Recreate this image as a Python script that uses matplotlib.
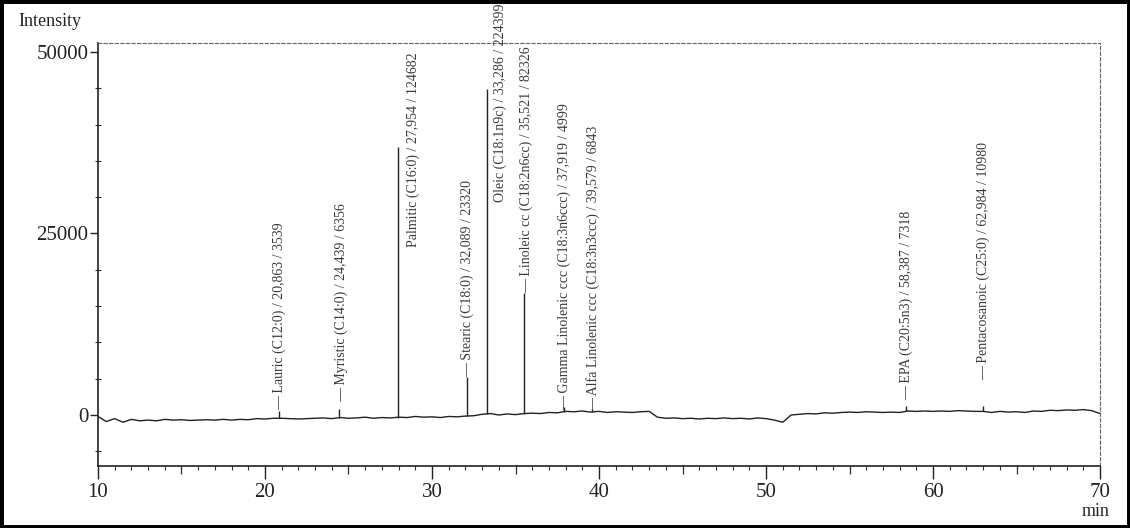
import numpy as np
import matplotlib
matplotlib.use("Agg")
from matplotlib import pyplot as plt
from matplotlib.patches import Rectangle

# baseline of the chromatogram, read every 0.5 min (10 ... 70)
baseline_t = np.arange(10.0, 70.01, 0.5)
baseline_y = [
    -200, -900, -500, -1000, -600, -800, -700, -800, -600, -700,
    -650, -750, -700, -650, -700, -600, -700, -600, -650, -500,
    -550, -450, -450, -500, -550, -500, -450, -400, -500, -350,
    -450, -400, -300, -450, -350, -400, -300, -350, -200, -300,
    -250, -350, -200, -250, -150, -100, 100, 200, 0, 150,
    50, 200, 250, 200, 350, 300, 500, 450, 550, 400,
    500, 350, 450, 400, 350, 450, 500, -300, -450, -400,
    -500, -450, -550, -450, -500, -400, -500, -450, -550, -400,
    -500, -700, -1000, 0, 100, 200, 150, 300, 250, 350,
    400, 350, 450, 400, 350, 400, 350, 550, 500, 550,
    500, 550, 500, 600, 550, 500, 500, 350, 500, 400,
    450, 350, 550, 500, 650, 600, 700, 650, 750, 600,
    200,
]

# peaks: retention time, foot level, apex
peak_names = [
    "Lauric (C12:0) / 20,863 / 3539",
    "Myristic (C14:0) / 24,439 / 6356",
    "Palmitic (C16:0) / 27,954 / 124682",
    "Stearic (C18:0) / 32,089 / 23320",
    "Oleic (C18:1n9c) / 33,286 / 224399",
    "Linoleic cc (C18:2n6cc) / 35,521 / 82326",
    "Gamma Linolenic ccc (C18:3n6ccc) / 37,919 / 4999",
    "Alfa Linolenic ccc (C18:3n3ccc) / 39,579 / 6843",
    "EPA (C20:5n3) / 58,387 / 7318",
    "Pentacosanoic (C25:0) / 62,984 / 10980",
]
peak_t = [20.863, 24.439, 27.954, 32.089, 33.286, 35.521, 37.919, 39.579, 58.387, 62.984]
peak_base = [-450, -400, -350, -150, 100, 150, 450, 450, 500, 500]
peak_top = [600, 800, 36900, 5200, 44900, 16800, 1100, 800, 1200, 1200]

# where the peak labels sit (x in min, bottom of the text in intensity)
label_x = [20.84, 24.6, 28.86, 32.1, 34.07, 35.63, 37.9, 39.65, 58.38, 62.99]
label_y = [700, 1800, 23100, 5200, 29300, 16800, 700, 400, 2000, 4800]
label_dash = [True, True, False, True, False, True, True, True, True, True]

plt.rcParams["font.family"] = ["Liberation Serif", "DejaVu Serif"]

fig = plt.figure(figsize=(11.3, 5.28), dpi=100)
ax = fig.add_axes([0.0867, 0.1174, 0.9735 - 0.0867, 0.9186 - 0.1174])

ax.plot(baseline_t, baseline_y, color="#222222", lw=1.0)
ax.vlines(peak_t, peak_base, peak_top, color="#222222", lw=1.0)

for name, x, y, dash in zip(peak_names, label_x, label_y, label_dash):
    txt = ("\u2014 " + name) if dash else name
    ax.text(x, y, txt, rotation=90, ha="center", va="bottom",
            fontsize=10, color="#3a3a3a", clip_on=False)

ax.set_xlim(10, 70)
ax.set_ylim(-7025, 51240)

ax.set_xticks(range(10, 71, 10))
ax.set_xticks(np.arange(10, 71, 1), minor=True)
ax.set_yticks([0, 25000, 50000])
ax.set_yticks(np.arange(-5000, 50001, 5000), minor=True)

ax.tick_params(axis="x", which="major", length=9, width=1, pad=3,
               labelsize=15, colors="#222222")
ax.tick_params(axis="x", which="minor", length=3, width=0.8, colors="#333333")
ax.tick_params(axis="y", which="major", length=6, width=1, pad=1,
               labelsize=15, colors="#222222")
ax.tick_params(axis="y", which="minor", length=4, width=0.8,
               direction="inout", colors="#333333")

# medium ticks every 5 min
sec = ax.secondary_xaxis("bottom")
sec.set_xticks(range(15, 70, 10))
sec.tick_params(length=6, width=0.9, labelbottom=False, colors="#333333")
sec.spines["bottom"].set_visible(False)

for s in ["left", "bottom"]:
    ax.spines[s].set_color("#222222")
    ax.spines[s].set_linewidth(1.2)
for s in ["top", "right"]:
    ax.spines[s].set_color("#666666")
    ax.spines[s].set_linewidth(0.8)
    ax.spines[s].set_linestyle((0, (3, 2)))

fig.text(18 / 1130, 1 - 22 / 528, "Intensity", ha="left", va="center",
         fontsize=13, color="#222222")
fig.text(1110 / 1130, 1 - 512 / 528, "min", ha="right", va="center",
         fontsize=13, color="#222222")

# black frame round the scan
fig.patches.append(Rectangle((0, 0), 1, 1, transform=fig.transFigure,
                             fill=False, edgecolor="black", lw=5))

fig.savefig("out.png", dpi=100)
